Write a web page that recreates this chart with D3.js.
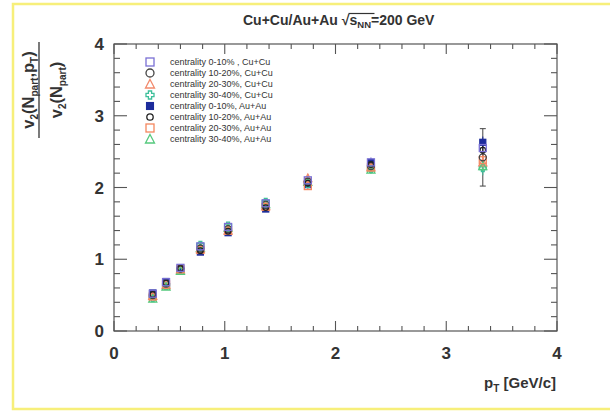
<!DOCTYPE html>
<html><head><meta charset="utf-8">
<script src="https://cdn.jsdelivr.net/npm/d3@7"></script>
<style>body{margin:0;background:#fff;}svg{display:block;font-family:"Liberation Sans",Arial,sans-serif;}</style>
</head><body><svg id="c" width="610" height="413"></svg>
<script>
const pT = [0.35, 0.47, 0.60, 0.78, 1.03, 1.37, 1.75, 2.32, 3.33];
const seriesNames = ["centrality 0-10% , Cu+Cu","centrality 10-20%, Cu+Cu","centrality 20-30%, Cu+Cu","centrality 30-40%, Cu+Cu","centrality 0-10%,  Au+Au","centrality 10-20%, Au+Au","centrality 20-30%, Au+Au","centrality 30-40%, Au+Au"];
const cuCu0010 = [0.52, 0.68, 0.88, 1.18, 1.45, 1.78, 2.10, 2.35, 2.55];
const cuCu1020 = [0.50, 0.66, 0.87, 1.15, 1.42, 1.76, 2.08, 2.30, 2.42];
const cuCu2030 = [0.49, 0.64, 0.86, 1.14, 1.40, 1.74, 2.13, 2.28, 2.35];
const cuCu3040 = [0.46, 0.63, 0.85, 1.20, 1.47, 1.80, 2.05, 2.26, 2.27];
const auAu0010 = [0.53, 0.69, 0.88, 1.10, 1.37, 1.70, 2.04, 2.35, 2.63];
const auAu1020 = [0.51, 0.67, 0.87, 1.12, 1.39, 1.72, 2.06, 2.32, 2.52];
const auAu2030 = [0.48, 0.65, 0.86, 1.13, 1.40, 1.73, 2.02, 2.28, 2.38];
const auAu3040 = [0.45, 0.62, 0.84, 1.16, 1.44, 1.77, 2.08, 2.25, 2.30];
const errCuCu = [0.03, 0.03, 0.03, 0.04, 0.04, 0.05, 0.06, 0.07, 0.10];
const errCuCu1020 = [0.03, 0.03, 0.03, 0.04, 0.04, 0.05, 0.06, 0.07, 0.40];
const errAuAu = [0.02, 0.02, 0.02, 0.03, 0.03, 0.03, 0.04, 0.05, 0.08];
const xTicks = [0, 1, 2, 3, 4];
const yTicks = [0, 1, 2, 3, 4];

const values = [cuCu0010, cuCu1020, cuCu2030, cuCu3040, auAu0010, auAu1020, auAu2030, auAu3040];
const errs = [errCuCu, errCuCu1020, errCuCu, errCuCu, errAuAu, errAuAu, errAuAu, errAuAu];
const styles = [
  {shape:"square", color:"#7a70d4", fill:"none"},
  {shape:"circle", color:"#444", fill:"none"},
  {shape:"triangle", color:"#f28a6c", fill:"none"},
  {shape:"cross", color:"#3dbf9a", fill:"none"},
  {shape:"square", color:"#1d2c9c", fill:"#1d2c9c", small:true},
  {shape:"circle", color:"#222", fill:"none", small:true},
  {shape:"square", color:"#f4875f", fill:"none"},
  {shape:"triangle", color:"#55c97e", fill:"none"}
];

const svg = d3.select("#c");
svg.append("path").attr("d","M610,4 H13 V409 H610").attr("fill","none").attr("stroke","#f7ef7a").attr("stroke-width",2.5);

const L=114, R=557, T=44, B=331;
const x = d3.scaleLinear().domain([0,4]).range([L,R]);
const y = d3.scaleLinear().domain([0,4]).range([B,T]);
const axc = "#555";

svg.append("rect").attr("x",L).attr("y",T).attr("width",R-L).attr("height",B-T).attr("fill","none").attr("stroke",axc).attr("stroke-width",1.2);

const minor = d3.range(0,4.001,0.2);
const g = svg.append("g").attr("stroke",axc).attr("stroke-width",1.1);
minor.forEach(v=>{
  const major = Math.abs(v-Math.round(v))<1e-6;
  const lx = major?10:5, ly = major?13:6;
  g.append("line").attr("x1",x(v)).attr("x2",x(v)).attr("y1",B).attr("y2",B-lx);
  g.append("line").attr("x1",x(v)).attr("x2",x(v)).attr("y1",T).attr("y2",T+lx);
  g.append("line").attr("y1",y(v)).attr("y2",y(v)).attr("x1",L).attr("x2",L+ly);
  g.append("line").attr("y1",y(v)).attr("y2",y(v)).attr("x1",R).attr("x2",R-ly);
});

svg.selectAll(".xt").data(xTicks).enter().append("text").attr("x",d=>x(d)).attr("y",359)
  .attr("text-anchor","middle").attr("font-size",17).attr("font-weight","bold").attr("fill","#333").text(d=>d);
svg.selectAll(".yt").data(yTicks).enter().append("text").attr("x",104).attr("y",d=>y(d)+6)
  .attr("text-anchor","end").attr("font-size",17).attr("font-weight","bold").attr("fill","#333").text(d=>d);

const xt = svg.append("text").attr("x",556).attr("y",388).attr("text-anchor","end").attr("font-size",15).attr("font-weight","bold").attr("fill","#333");
xt.append("tspan").text("p");
xt.append("tspan").attr("font-size",10).attr("dy",4).text("T");
xt.append("tspan").attr("dy",-4).text(" [GeV/c]");

const yl = svg.append("g").attr("transform","translate(0,90) rotate(-90)").attr("fill","#333").attr("font-weight","bold");
const num = yl.append("text").attr("x",0).attr("y",34).attr("text-anchor","middle").attr("font-size",16.5);
num.append("tspan").text("v");
num.append("tspan").attr("font-size",10).attr("dy",4).text("2");
num.append("tspan").attr("dy",-4).text("(N");
num.append("tspan").attr("font-size",10).attr("dy",4).text("part");
num.append("tspan").attr("dy",-4).text(",p");
num.append("tspan").attr("font-size",10).attr("dy",4).text("T");
num.append("tspan").attr("dy",-4).text(")");
yl.append("line").attr("x1",-48).attr("x2",48).attr("y1",39).attr("y2",39).attr("stroke","#333").attr("stroke-width",1.3);
const den = yl.append("text").attr("x",0).attr("y",62).attr("text-anchor","middle").attr("font-size",16.5);
den.append("tspan").text("v");
den.append("tspan").attr("font-size",10).attr("dy",4).text("2");
den.append("tspan").attr("dy",-4).text("(N");
den.append("tspan").attr("font-size",10).attr("dy",4).text("part");
den.append("tspan").attr("dy",-4).text(")");

const tt = svg.append("text").attr("x",243).attr("y",25).attr("font-size",14).attr("font-weight","bold").attr("fill","#333");
tt.append("tspan").text("Cu+Cu/Au+Au  \u221A");
tt.append("tspan").attr("id","snn").text("s");
tt.append("tspan").attr("font-size",9.5).attr("dy",3).text("NN");
tt.append("tspan").attr("dy",-3).text("=200 GeV");
const tb = tt.node().getBBox();
const sNode = document.getElementById("snn");
const sx = sNode.getStartPositionOfChar(0).x;
svg.append("line").attr("x1",sx-1).attr("x2",sx+25).attr("y1",tb.y+1.5).attr("y2",tb.y+1.5).attr("stroke","#333").attr("stroke-width",1.2);

function marker(sel, s, cx, cy, size){
  const h = size/2;
  if(s.shape==="square"){
    const hh = s.small? h*0.85 : h;
    sel.append("rect").attr("x",cx-hh).attr("y",cy-hh).attr("width",2*hh).attr("height",2*hh)
      .attr("fill",s.fill).attr("stroke",s.color).attr("stroke-width",1.3);
  } else if(s.shape==="circle"){
    const r = s.small? h*0.8 : h;
    sel.append("circle").attr("cx",cx).attr("cy",cy).attr("r",r).attr("fill","none").attr("stroke",s.color).attr("stroke-width",1.3);
  } else if(s.shape==="triangle"){
    sel.append("path").attr("d",`M${cx},${cy-h-0.5} L${cx+h+0.5},${cy+h} L${cx-h-0.5},${cy+h} Z`).attr("fill","none").attr("stroke",s.color).attr("stroke-width",1.3);
  } else if(s.shape==="cross"){
    const a=h, b=h*0.4;
    sel.append("path").attr("d",`M${cx-b},${cy-a} H${cx+b} V${cy-b} H${cx+a} V${cy+b} H${cx+b} V${cy+a} H${cx-b} V${cy+b} H${cx-a} V${cy-b} H${cx-b} Z`)
      .attr("fill","none").attr("stroke",s.color).attr("stroke-width",1.3);
  }
}

const dg = svg.append("g");
values.forEach((vals,i)=>{
  const s = styles[i];
  const sg = dg.append("g");
  vals.forEach((v,j)=>{
    const e = errs[i][j];
    sg.append("line").attr("x1",x(pT[j])).attr("x2",x(pT[j])).attr("y1",y(v-e)).attr("y2",y(v+e)).attr("stroke",s.color).attr("stroke-width",1);
    if(e>0.2){
      [v-e,v+e].forEach(q=>sg.append("line").attr("x1",x(pT[j])-3).attr("x2",x(pT[j])+3).attr("y1",y(q)).attr("y2",y(q)).attr("stroke",s.color).attr("stroke-width",1));
    }
  });
});
[4,3,2,7,6,1,5,0].forEach(i=>{
  const s = styles[i];
  values[i].forEach((v,j)=>marker(dg, s, x(pT[j]), y(v), 7));
});

const lg = svg.append("g");
seriesNames.forEach((n,i)=>{
  const cy = 62 + i*11;
  marker(lg, styles[i], 150, cy, 8);
  lg.append("text").attr("x",170).attr("y",cy+3).attr("font-size",9).attr("fill","#333").text(n);
});
</script></body></html>
